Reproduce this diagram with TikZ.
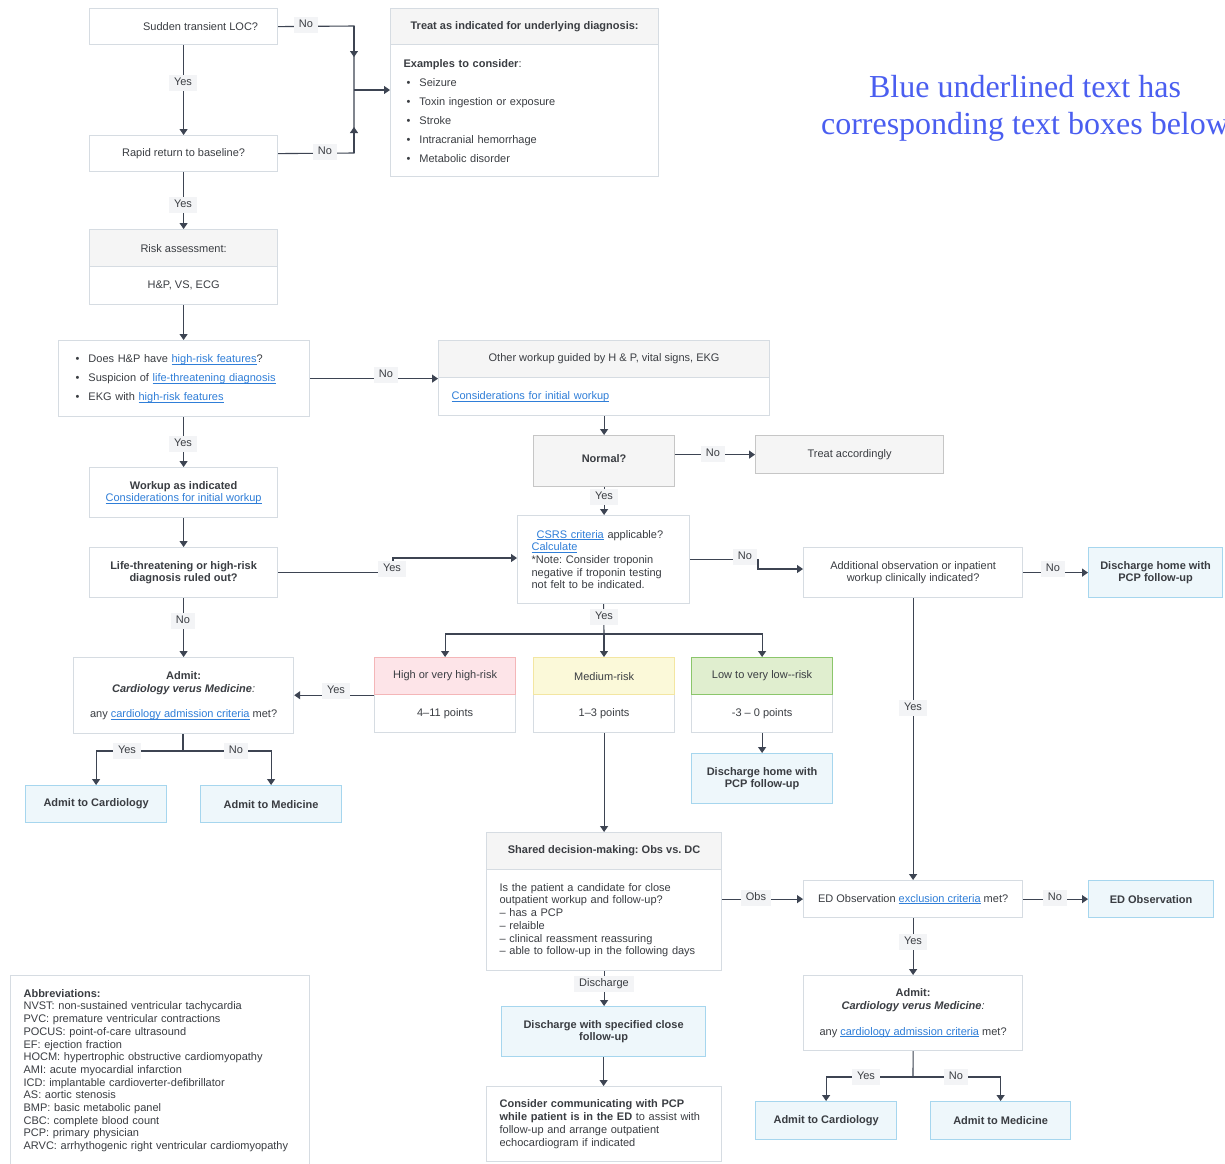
\documentclass[tikz,border=0pt]{standalone}
\usepackage{fontspec}
\setmainfont{Liberation Sans}
\newfontfamily\notefont{Liberation Serif}
\usetikzlibrary{arrows.meta}
\definecolor{txtc}{HTML}{3A3D42}
\definecolor{linec}{HTML}{3D4452}
\definecolor{bordc}{HTML}{D6DCE2}
\definecolor{hdrc}{HTML}{F5F5F5}
\definecolor{lnkc}{HTML}{2F7ED8}
\definecolor{lblc}{HTML}{F3F4F6}
\definecolor{bluefill}{HTML}{EEF7FB}
\definecolor{bluebord}{HTML}{A6D6EE}
\definecolor{pinkfill}{HTML}{FDE4E8}
\definecolor{pinkbord}{HTML}{F4B6B8}
\definecolor{yelfill}{HTML}{FBF9D9}
\definecolor{yelbord}{HTML}{F3E6A2}
\definecolor{grnfill}{HTML}{E0EECF}
\definecolor{grnbord}{HTML}{8BC66B}
\definecolor{normbord}{HTML}{C6C6C6}
\definecolor{notec}{HTML}{4A5EF0}
\newcommand{\lnk}[1]{\leavevmode{\color{lnkc}\setbox0\hbox{#1}\rlap{\rule[-1.8pt]{\wd0}{0.7pt}}\box0}}
\frenchspacing
\begin{document}
\begin{tikzpicture}[x=1pt,y=-1pt,
  every node/.style={font=\fontsize{11}{12.7}\selectfont, text=txtc},
  box/.style={draw=bordc, fill=white, line width=1.2pt, inner sep=0pt, align=center, anchor=north west},
  bf/.style={font=\fontsize{11}{12.7}\selectfont\bfseries},
  hdr/.style={box, fill=hdrc},
  bluebox/.style={box, draw=bluebord, fill=bluefill, bf},
  lbox/.style={box, align=left, inner xsep=13pt},
  conn/.style={draw=linec, line width=1.1pt},
  arr/.style={-{Triangle[length=6pt,width=8pt]}},
  lbl/.style={fill=lblc, inner xsep=5pt, inner ysep=2.5pt, text height=8pt, text depth=2.5pt},
]
\fill[white] (0,0) rectangle (1225,1163);
\useasboundingbox (0,0) rectangle (1225,1163);

% note
\node[anchor=base, font=\fontsize{32}{36}\notefont, text=notec] (note1) at (1025,97) {Blue underlined text has};
\node[anchor=base, font=\fontsize{32}{36}\notefont, text=notec] (note2) at (1025,134) {corresponding text boxes below};

% top
\node[box, minimum width=188, minimum height=36] (loc) at (89,8) {\hspace*{34pt}Sudden transient LOC?};
\node[box, minimum width=188, minimum height=36] (rapid) at (89,135) {Rapid return to baseline?};
\node[lbox, text width=242, minimum height=132, inner xsep=13] (treatB) at (390,44) {{\bfseries Examples to consider}:\\[6.3pt]
\hspace*{3pt}\textbullet\hspace{9pt}Seizure\\[6.3pt]
\hspace*{3pt}\textbullet\hspace{9pt}Toxin ingestion or exposure\\[6.3pt]
\hspace*{3pt}\textbullet\hspace{9pt}Stroke\\[6.3pt]
\hspace*{3pt}\textbullet\hspace{9pt}Intracranial hemorrhage\\[6.3pt]
\hspace*{3pt}\textbullet\hspace{9pt}Metabolic disorder};
\node[hdr, bf, minimum width=268, minimum height=36] (treatH) at (390,8) {Treat as indicated for underlying diagnosis:};

\node[box, minimum width=188, minimum height=38] (riskB) at (89,266) {H\&P, VS, ECG};
\node[hdr, minimum width=188, minimum height=37] (riskH) at (89,229) {Risk assessment:};

\node[lbox, text width=217, inner xsep=17, minimum height=76] (bul) at (58,340) {\textbullet\hspace{9pt}Does H\&P have \lnk{high-risk features}?\\[6.3pt]
\textbullet\hspace{9pt}Suspicion of \lnk{life-threatening diagnosis}\\[6.3pt]
\textbullet\hspace{9pt}EKG with \lnk{high-risk features}};

\node[lbox, text width=305, minimum height=38] (othB) at (438,377) {\lnk{Considerations for initial workup}};
\node[hdr, minimum width=331, minimum height=37] (othH) at (438,340) {Other workup guided by H \& P, vital signs, EKG};

\node[box, bf, draw=normbord, fill=hdrc, minimum width=141, minimum height=51] (normal) at (533,435) {\raisebox{6pt}{Normal?}};
\node[box, draw=normbord, fill=hdrc, minimum width=188, minimum height=38] (treatacc) at (755,435) {Treat accordingly};

\node[box, minimum width=188, minimum height=50] (workup) at (89,467) {{\bfseries Workup as indicated}\\\lnk{Considerations for initial workup}};
\node[box, bf, minimum width=188, minimum height=50] (life) at (89,547) {Life-threatening or high-risk\\diagnosis ruled out?};

\node[lbox, text width=144, inner xsep=14, minimum height=88] (csrs) at (517,515) {\hspace*{5pt}\lnk{CSRS criteria} applicable?\\\lnk{Calculate}\\{}*Note: Consider troponin\\negative if troponin testing\\not felt to be indicated.};

\node[box, minimum width=219, minimum height=50] (addl) at (803,547) {Additional observation or inpatient\\workup clinically indicated?};
\node[bluebox, minimum width=134, minimum height=50] (dhR) at (1088,547) {Discharge home with\\PCP follow-up};

\node[box, minimum width=220, minimum height=76] (admL) at (73,657) {{\bfseries Admit:}\\{\bfseries\itshape Cardiology verus Medicine}{\itshape :}\\[12.7pt]any \lnk{cardiology admission criteria} met?};

\node[box, minimum width=141, minimum height=38] (hiB) at (374,694) {4--11 points};
\node[hdr, draw=pinkbord, fill=pinkfill, minimum width=141, minimum height=37] (hiH) at (374,657) {High or very high-risk};
\node[box, minimum width=141, minimum height=38] (medB) at (533,694) {1--3 points};
\node[hdr, draw=yelbord, fill=yelfill, minimum width=141, minimum height=37] (medH) at (533,657) {Medium-risk};
\node[box, minimum width=141, minimum height=38] (loB) at (691,694) {-3 -- 0 points};
\node[hdr, draw=grnbord, fill=grnfill, minimum width=141, minimum height=37] (loH) at (691,657) {Low to very low-{}-risk};

\node[bluebox, minimum width=141, minimum height=50] (dhM) at (691,753) {Discharge home with\\PCP follow-up};
\node[bluebox, minimum width=141, minimum height=37] (acL) at (25,785) {Admit to Cardiology};
\node[bluebox, minimum width=141, minimum height=37] (amL) at (200,785) {Admit to Medicine};

\node[lbox, text width=209, minimum height=101] (sdB) at (486,869) {Is the patient a candidate for close\\outpatient workup and follow-up?\\-- has a PCP\\-- relaible\\-- clinical reassment reassuring\\-- able to follow-up in the following days};
\node[hdr, bf, minimum width=235, minimum height=37] (sdH) at (486,832) {Shared decision-making: Obs vs. DC};

\node[box, minimum width=219, minimum height=37] (edx) at (803,880) {ED Observation \lnk{exclusion criteria} met?};
\node[bluebox, minimum width=125, minimum height=37] (edo) at (1088,880) {ED Observation};

\node[box, minimum width=219, minimum height=75] (admR) at (803,975) {{\bfseries Admit:}\\{\bfseries\itshape Cardiology verus Medicine}{\itshape :}\\[12.7pt]any \lnk{cardiology admission criteria} met?};

\node[bluebox, minimum width=204, minimum height=50] (dsc) at (501,1006) {Discharge with specified close\\follow-up};
\node[lbox, text width=209, minimum height=75] (cons) at (486,1086) {{\bfseries Consider communicating with PCP}\\{\bfseries while patient is in the ED} to assist with\\follow-up and arrange outpatient\\echocardiogram if indicated};

\node[bluebox, minimum width=141, minimum height=38] (acR) at (755,1101) {Admit to Cardiology};
\node[bluebox, minimum width=140, minimum height=38] (amR) at (930,1101) {Admit to Medicine};

\node[lbox, text width=273, minimum height=190] (abbr) at (10,975) {{\bfseries Abbreviations:}\\NVST: non-sustained ventricular tachycardia\\PVC: premature ventricular contractions\\POCUS: point-of-care ultrasound\\EF: ejection fraction\\HOCM: hypertrophic obstructive cardiomyopathy\\AMI: acute myocardial infarction\\ICD: implantable cardioverter-defibrillator\\AS: aortic stenosis\\BMP: basic metabolic panel\\CBC: complete blood count\\PCP: primary physician\\ARVC: arrhythogenic right ventricular cardiomyopathy};

% ---------- connectors ----------
\coordinate (jtop) at (354,26);
\coordinate (jmid) at (354,90);
\coordinate (jbot) at (354,153);
\draw[conn] (loc.east) -- (jtop) -- (jbot) -- (rapid.east);
\draw[conn,arr] (jtop) -- ++(0,31);
\draw[conn,arr] (jbot) -- ++(0,-26);
\draw[conn,arr] (jmid) -- (jmid -| treatB.west);
\node[lbl] (lNo1) at (306,25) {No};
\node[lbl] (lNo2) at (325,152) {No};

\draw[conn,arr] (loc.south) -- (rapid.north);
\node[lbl] (lY1) at (183,83) {Yes};
\draw[conn,arr] (rapid.south) -- (riskH.north);
\node[lbl] (lY2) at (183,205) {Yes};
\draw[conn,arr] (riskB.south) -- (riskB.south |- bul.north);
\draw[conn,arr] (bul.east) -- (othH.west |- bul.east);
\node[lbl] (lNo3) at (386,375) {No};
\draw[conn,arr] (workup.north |- bul.south) -- (workup.north);
\node[lbl] (lY3) at (183,444) {Yes};
\draw[conn,arr] (workup.south) -- (life.north);

\draw[conn,arr] (othB.south) -- (normal.north);
\draw[conn,arr] (normal.east |- treatacc.west) -- (treatacc.west);
\node[lbl] (lNo4) at (713,454) {No};
\draw[conn,arr] (normal.south) -- (normal.south |- csrs.north);
\node[lbl] (lY4) at (604,497) {Yes};

\coordinate (jyes) at (393,558);
\draw[conn,arr] (life.east) -- (life.east -| jyes) -- (jyes) -- (jyes -| csrs.west);
\node[lbl] (lY5) at (392,569) {Yes};

\coordinate (jno) at (758,569);
\draw[conn,arr] (csrs.east) -- (csrs.east -| jno) -- (jno) -- (jno -| addl.west);
\node[lbl] (lNo5) at (745,557) {No};

\draw[conn,arr] (addl.east) -- (dhR.west);
\node[lbl] (lNo6) at (1053,569) {No};
\draw[conn,arr] (addl.south) -- (addl.south |- edx.north);
\node[lbl] (lY6) at (913,708) {Yes};

\coordinate (sp1) at (604,634);
\draw[conn] (csrs.south) -- (sp1);
\draw[conn,arr] (sp1) -| (hiH.north);
\draw[conn,arr] (sp1) -- (sp1 |- medH.north);
\draw[conn,arr] (sp1) -| (loH.north);
\node[lbl] (lY7) at (604,617) {Yes};

\draw[conn,arr] (hiH.south west) -- (admL.east |- hiH.south west);
\node[lbl] (lY8) at (336,691) {Yes};
\draw[conn,arr] (life.south) -- (admL.north -| life.south);
\node[lbl] (lNo7) at (183,621) {No};

\coordinate (sp2) at (183,751);
\draw[conn] (admL.south -| sp2) -- (sp2);
\draw[conn,arr] (sp2) -| (acL.north);
\draw[conn,arr] (sp2) -| (amL.north);
\node[lbl] (lY9) at (127,751) {Yes};
\node[lbl] (lNo8) at (236,751) {No};

\draw[conn,arr] (loB.south) -- (dhM.north);
\draw[conn,arr] (medB.south) -- (sdH.north);

\draw[conn,arr] (sdB.east |- edx.west) -- (edx.west);
\node[lbl] (lObs) at (756,898) {Obs};
\draw[conn,arr] (edx.east) -- (edo.west);
\node[lbl] (lNo9) at (1055,898) {No};
\draw[conn,arr] (edx.south) -- (admR.north);
\node[lbl] (lY10) at (913,942) {Yes};

\coordinate (sp3) at (913,1077);
\draw[conn] (admR.south) -- (sp3);
\draw[conn,arr] (sp3) -| (acR.north);
\draw[conn,arr] (sp3) -| (amR.north);
\node[lbl] (lY11) at (866,1077) {Yes};
\node[lbl] (lNo10) at (956,1077) {No};

\draw[conn,arr] (sdB.south) -- (sdB.south |- dsc.north);
\node[lbl] (lDis) at (604,984) {Discharge};
\draw[conn,arr] (dsc.south) -- (dsc.south |- cons.north);
\end{tikzpicture}
\end{document}
